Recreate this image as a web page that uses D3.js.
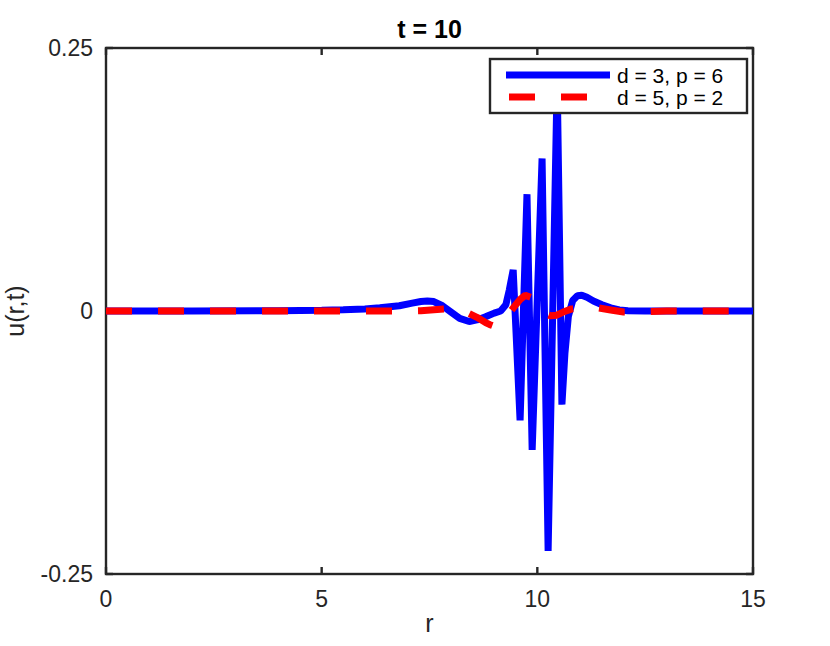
<!DOCTYPE html>
<html>
<head>
<meta charset="utf-8">
<script src="https://cdn.jsdelivr.net/npm/d3@7"></script>
<style>
  body { margin: 0; background: #fff; }
  svg { display: block; font-family: "Liberation Sans", Arial, Helvetica, sans-serif; }
</style>
</head>
<body>
<div id="chart"></div>
<script>
// series 1: d = 3, p = 6
var rBlue = [0, 2, 4, 5, 5.5, 6, 6.35, 6.8, 7.1, 7.3, 7.45, 7.6, 7.8, 8.0, 8.2, 8.42, 8.6, 8.8, 9.0, 9.15,
  9.27, 9.35, 9.44, 9.6, 9.76, 9.88, 10.11, 10.25, 10.46, 10.57, 10.64, 10.72, 10.82, 10.93, 11.03,
  11.15, 11.3, 11.5, 11.7, 11.9, 12.1, 12.5, 15];
var uBlue = [0, 0, 0.0003, 0.0008, 0.0013, 0.002, 0.003, 0.005, 0.0075, 0.009, 0.0095, 0.009, 0.005, -0.001, -0.007, -0.010, -0.0085, -0.0055, -0.002, 0.0,
  0.006, 0.02, 0.039, -0.104, 0.111, -0.132, 0.145, -0.228, 0.22, -0.089, -0.04, -0.005, 0.01, 0.0145, 0.015,
  0.013, 0.0095, 0.006, 0.003, 0.001, 0.0002, 0, 0];

// series 2: d = 5, p = 2
var rRed = [0, 7, 7.3, 7.6, 7.9, 8.1, 8.25, 8.4, 8.6, 8.8, 8.9, 9.0, 9.15, 9.3, 9.37, 9.5, 9.6, 9.72,
  9.85, 10.0, 10.15, 10.3, 10.45, 10.6, 10.8, 11.1, 11.4, 11.7, 12.0, 12.4, 13, 15];
var uRed = [0, 0, 0.0003, 0.0012, 0.002, 0.0012, 0.0, -0.002, -0.006, -0.011, -0.013, -0.0145, -0.011, -0.005, -0.001, 0.006, 0.011, 0.015,
  0.013, 0.005, -0.002, -0.0045, -0.004, -0.001, 0.002, 0.0035, 0.003, 0.001, -0.001, -0.0008, 0, 0];

var xTicks = [0, 5, 10, 15];
var xTickLabels = ["0", "5", "10", "15"];
var yTicks = [-0.25, 0, 0.25];
var yTickLabels = ["-0.25", "0", "0.25"];
var seriesNames = ["d = 3, p = 6", "d = 5, p = 2"];

function drawChart() {
  var width = 830, height = 646;
  var box = { left: 106, right: 753, top: 48, bottom: 574 };
  var axisColor = "#262626";
  var lineWidth = 7;

  var svg = d3.select("#chart").append("svg")
    .attr("width", width)
    .attr("height", height);

  var x = d3.scaleLinear().domain([0, 15]).range([box.left, box.right]);
  var y = d3.scaleLinear().domain([-0.25, 0.25]).range([box.bottom, box.top]);

  // axes box
  var axes = svg.append("g").attr("class", "axes");
  axes.append("rect")
    .attr("x", box.left).attr("y", box.top)
    .attr("width", box.right - box.left).attr("height", box.bottom - box.top)
    .attr("fill", "none")
    .attr("stroke", axisColor)
    .attr("stroke-width", 2.4);

  // ticks (inside, on all four sides)
  var tickLen = 7;
  xTicks.forEach(function (t) {
    axes.append("line").attr("x1", x(t)).attr("x2", x(t)).attr("y1", box.bottom).attr("y2", box.bottom - tickLen);
    axes.append("line").attr("x1", x(t)).attr("x2", x(t)).attr("y1", box.top).attr("y2", box.top + tickLen);
  });
  yTicks.forEach(function (t) {
    axes.append("line").attr("y1", y(t)).attr("y2", y(t)).attr("x1", box.left).attr("x2", box.left + tickLen);
    axes.append("line").attr("y1", y(t)).attr("y2", y(t)).attr("x1", box.right).attr("x2", box.right - tickLen);
  });
  axes.selectAll("line").attr("stroke", axisColor).attr("stroke-width", 2.4);

  // tick labels
  axes.selectAll(".xlab").data(xTicks).enter().append("text")
    .attr("class", "xlab")
    .attr("x", function (d) { return x(d); })
    .attr("y", 607)
    .attr("text-anchor", "middle")
    .attr("font-size", 23)
    .attr("fill", axisColor)
    .text(function (d, i) { return xTickLabels[i]; });

  axes.selectAll(".ylab").data(yTicks).enter().append("text")
    .attr("class", "ylab")
    .attr("x", box.left - 13)
    .attr("y", function (d) { return y(d); })
    .attr("dy", "0.36em")
    .attr("text-anchor", "end")
    .attr("font-size", 23)
    .attr("fill", axisColor)
    .text(function (d, i) { return yTickLabels[i]; });

  // title and axis labels
  svg.append("text")
    .attr("x", (box.left + box.right) / 2).attr("y", 38)
    .attr("text-anchor", "middle")
    .attr("font-size", 25).attr("font-weight", "bold")
    .attr("fill", "#000")
    .text("t = 10");

  svg.append("text")
    .attr("x", (box.left + box.right) / 2).attr("y", 632)
    .attr("text-anchor", "middle")
    .attr("font-size", 25)
    .attr("fill", axisColor)
    .text("r");

  svg.append("text")
    .attr("transform", "translate(24," + ((box.top + box.bottom) / 2) + ") rotate(-90)")
    .attr("text-anchor", "middle")
    .attr("font-size", 25)
    .attr("fill", axisColor)
    .text("u(r,t)");

  // data lines
  var line = d3.line()
    .x(function (d) { return x(d[0]); })
    .y(function (d) { return y(d[1]); });

  svg.append("path")
    .datum(d3.zip(rBlue, uBlue))
    .attr("d", line)
    .attr("fill", "none")
    .attr("stroke", "#0000ff")
    .attr("stroke-width", lineWidth)
    .attr("stroke-linejoin", "bevel");

  svg.append("path")
    .datum(d3.zip(rRed, uRed))
    .attr("d", line)
    .attr("fill", "none")
    .attr("stroke", "#ff0000")
    .attr("stroke-width", lineWidth)
    .attr("stroke-dasharray", "26,26")
    .attr("stroke-linejoin", "bevel");

  // legend
  var legend = svg.append("g").attr("class", "legend");
  legend.append("rect")
    .attr("x", 490).attr("y", 59)
    .attr("width", 257).attr("height", 54)
    .attr("fill", "#fff")
    .attr("stroke", axisColor)
    .attr("stroke-width", 2.4);

  legend.append("line")
    .attr("x1", 506).attr("x2", 610).attr("y1", 75).attr("y2", 75)
    .attr("stroke", "#0000ff").attr("stroke-width", lineWidth);
  legend.append("line")
    .attr("x1", 509).attr("x2", 610).attr("y1", 97).attr("y2", 97)
    .attr("stroke", "#ff0000").attr("stroke-width", lineWidth)
    .attr("stroke-dasharray", "26,26");

  legend.selectAll(".ltext").data(seriesNames).enter().append("text")
    .attr("class", "ltext")
    .attr("x", 617)
    .attr("y", function (d, i) { return 83 + i * 22; })
    .attr("font-size", 21)
    .attr("fill", "#000")
    .text(function (d) { return d; });
}

drawChart();
</script>
</body>
</html>
